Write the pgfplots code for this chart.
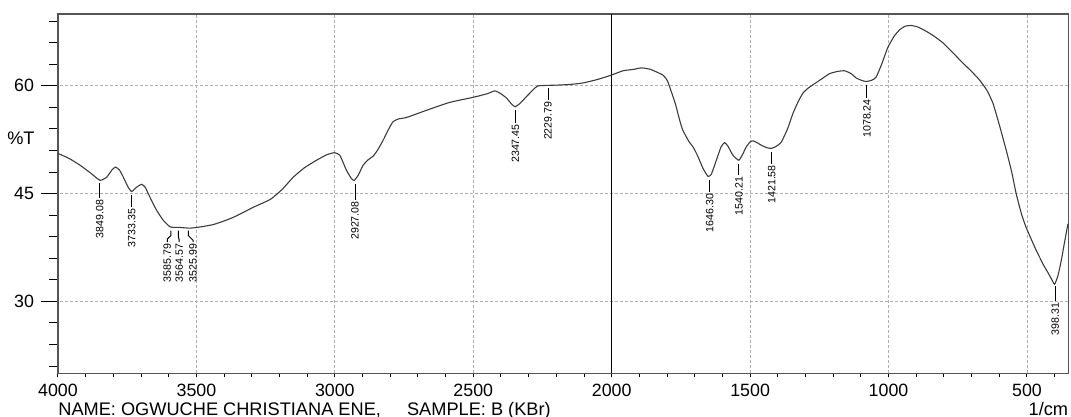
\documentclass[border=0pt]{standalone}
\usepackage{pgfplots}
\pgfplotsset{compat=1.18}
\usepackage{fontspec}
\setmainfont{Liberation Sans}
\definecolor{curve}{RGB}{60,60,60}
\definecolor{frame}{RGB}{85,85,85}
\definecolor{gridc}{RGB}{175,175,175}
\newcommand{\tickfont}{\fontsize{8.9bp}{10bp}\selectfont}
\newcommand{\pkfont}{\fontsize{5.3bp}{6bp}\selectfont}
\newcommand{\txtfont}{\fontsize{9.1bp}{10bp}\selectfont}
\begin{document}
\begin{tikzpicture}
% axis for the y ticks, labels and horizontal grid
\begin{axis}[
  scale only axis, width=505.25bp, height=179.65bp,
  x dir=reverse, xmin=350, xmax=4000, ymin=20, ymax=70,
  axis x line=none, axis y line*=left,
  y axis line style={draw=none},
  xtick=\empty,
  ytick={30,45,60},
  minor ytick={21,24,27,33,36,39,42,48,51,54,57,63,66,69},
  tick align=outside,
  major tick length=8.5bp, minor tick length=4.3bp,
  tick style={black, line width=0.5bp},
  ymajorgrids,
  major grid style={gridc, line width=0.45bp, dash pattern=on 1.5bp off 1bp},
  yticklabel style={font=\tickfont, /pgf/number format/assume math mode=true},
]
\addplot[draw=none] coordinates {(1000,30)};
\end{axis}
% main axis
\begin{axis}[
  name=main,
  scale only axis, width=505.25bp, height=179.65bp,
  x dir=reverse, xmin=350, xmax=4000, ymin=20, ymax=70,
  xtick={500,1000,...,4000},
  minor xtick={400,500,...,4000},
  ytick=\empty,
  tick align=outside, tick pos=left,
  major tick length=2bp, minor tick length=2bp,
  tick style={black, line width=0.5bp},
  xmajorgrids,
  major grid style={gridc, line width=0.45bp, dash pattern=on 1.5bp off 1bp},
  axis line style={frame, line width=0.6bp},
  xticklabel style={font=\tickfont, /pgf/number format/1000 sep={}, /pgf/number format/assume math mode=true},
  clip=false,
]
\draw[black, line width=0.6bp] (axis cs:2000,20) -- (axis cs:2000,70);
\addplot[curve, line width=0.55bp, smooth, tension=0.3] coordinates {
(4000,50.6) (3960,49.9) (3920,48.95) (3880,47.8) (3848,46.85) (3824,47.3)
(3805,48.3) (3792,48.7) (3778,48.3) (3764,47.3) (3748,46.0) (3734,45.3)
(3716,45.9) (3698,46.3) (3685,45.9) (3674,45.0) (3660,43.9) (3644,42.7)
(3620,41.3) (3596,40.4) (3580,40.3) (3560,40.3) (3523,40.2) (3480,40.4)
(3439,40.7) (3400,41.2) (3367,41.7) (3330,42.4) (3295,43.1) (3260,43.7)
(3229,44.3) (3190,45.6) (3150,47.3) (3110,48.6) (3066,49.65) (3030,50.4)
(3002,50.7) (2982,50.35) (2958,48.25) (2940,47.1) (2930,46.85) (2915,47.6)
(2898,48.95) (2880,49.7) (2862,50.2) (2845,51.1) (2826,52.4) (2808,53.8)
(2790,55.0) (2770,55.4) (2741,55.6) (2669,56.6) (2585,57.7) (2501,58.4)
(2450,58.9) (2422,59.3) (2400,58.9) (2380,58.3) (2360,57.4) (2348,57.1)
(2330,57.6) (2308,58.5) (2285,59.4) (2266,60.0) (2200,60.1) (2150,60.2)
(2104,60.4) (2050,60.9) (2001,61.5) (1959,62.1) (1920,62.3) (1893,62.5)
(1860,62.3) (1815,61.5) (1800,60.8) (1791,59.9) (1770,57.5) (1755,55.3)
(1743,53.8) (1720,52.2) (1706,51.5) (1690,50.3) (1670,48.5) (1652,47.4)
(1640,47.7) (1622,49.65) (1605,51.5) (1592,52.1) (1580,51.6) (1562,50.35)
(1541,49.65) (1528,50.4) (1514,51.5) (1500,52.2) (1490,52.35) (1475,52.1)
(1460,51.75) (1440,51.4) (1423,51.3) (1405,51.6) (1387,52.2) (1365,54.0)
(1345,56.2) (1325,57.9) (1309,59.0) (1290,59.7) (1273,60.15) (1240,61.0)
(1213,61.7) (1185,62.0) (1159,62.1) (1135,61.7) (1117,61.1) (1100,60.8)
(1081,60.6) (1060,60.8) (1045,61.2) (1025,63.0) (1003,65.3) (980,66.9)
(960,67.8) (940,68.3) (918,68.4) (895,68.2) (864,67.6) (835,66.9)
(804,66.0) (770,64.7) (732,63.2) (700,62.0) (671,60.8) (645,59.4)
(623,57.6) (600,54.6) (575,51.05) (555,48.0) (539,45.0) (520,42.2)
(503,40.3) (470,37.4) (442,35.2) (424,34.0) (410,33.0) (400,32.4)
(388,33.6) (376,35.7) (364,38.3) (352,40.8)
};
% peak labels
\begin{scope}[black, line width=0.5bp, every node/.style={font=\pkfont, rotate=90, anchor=east, inner sep=0.6bp}]
\draw (axis cs:3849.08,46.43) -- (axis cs:3849.08,44.34) node {3849.08};
\draw (axis cs:3733.35,44.76) -- (axis cs:3733.35,43.12) node {3733.35};
\draw (axis cs:3592,39.86) -- (axis cs:3592,39.16) -- (axis cs:3605,38.7) -- (axis cs:3605,38.25) node {3585.79};
\draw (axis cs:3565,39.86) -- (axis cs:3565,39.0) -- (axis cs:3562,38.5) -- (axis cs:3562,38.25) node {3564.57};
\draw (axis cs:3529,39.86) -- (axis cs:3529,39.16) -- (axis cs:3512,38.5) -- (axis cs:3512,38.25) node {3525.99};
\draw (axis cs:2927.08,46.39) -- (axis cs:2927.08,44.15) node {2927.08};
\draw (axis cs:2347.45,56.64) -- (axis cs:2347.45,54.87) node {2347.45};
\draw (axis cs:2229.79,59.68) -- (axis cs:2229.79,58.04) node {2229.79};
\draw (axis cs:1646.30,46.85) -- (axis cs:1646.30,45.22) node {1646.30};
\draw (axis cs:1540.21,49.19) -- (axis cs:1540.21,47.55) node {1540.21};
\draw (axis cs:1421.58,50.81) -- (axis cs:1421.58,49.19) node {1421.58};
\draw (axis cs:1078.24,60.14) -- (axis cs:1078.24,58.36) node {1078.24};
\draw (axis cs:398.31,32.17) -- (axis cs:398.31,30.07) node {398.31};
\end{scope}
\node[anchor=east, font=\txtfont, inner sep=0pt] at ([xshift=-11.5bp]axis cs:4000,52.73) {\%T};
\end{axis}
\node[anchor=base west, inner sep=0pt, font=\txtfont] at ([yshift=-20.85bp]main.south west) {NAME: OGWUCHE CHRISTIANA ENE,};
\node[anchor=base west, inner sep=0pt, font=\txtfont] at ([xshift=174.35bp,yshift=-20.85bp]main.south west) {SAMPLE: B (KBr)};
\node[anchor=base east, inner sep=0pt, font=\txtfont] at ([yshift=-20.85bp]main.south east) {1/cm};
\pgfresetboundingbox
\path ([xshift=-29bp, yshift=-21.85bp]main.south west) rectangle ([xshift=1.25bp, yshift=7bp]main.north east);
\end{tikzpicture}
\end{document}
